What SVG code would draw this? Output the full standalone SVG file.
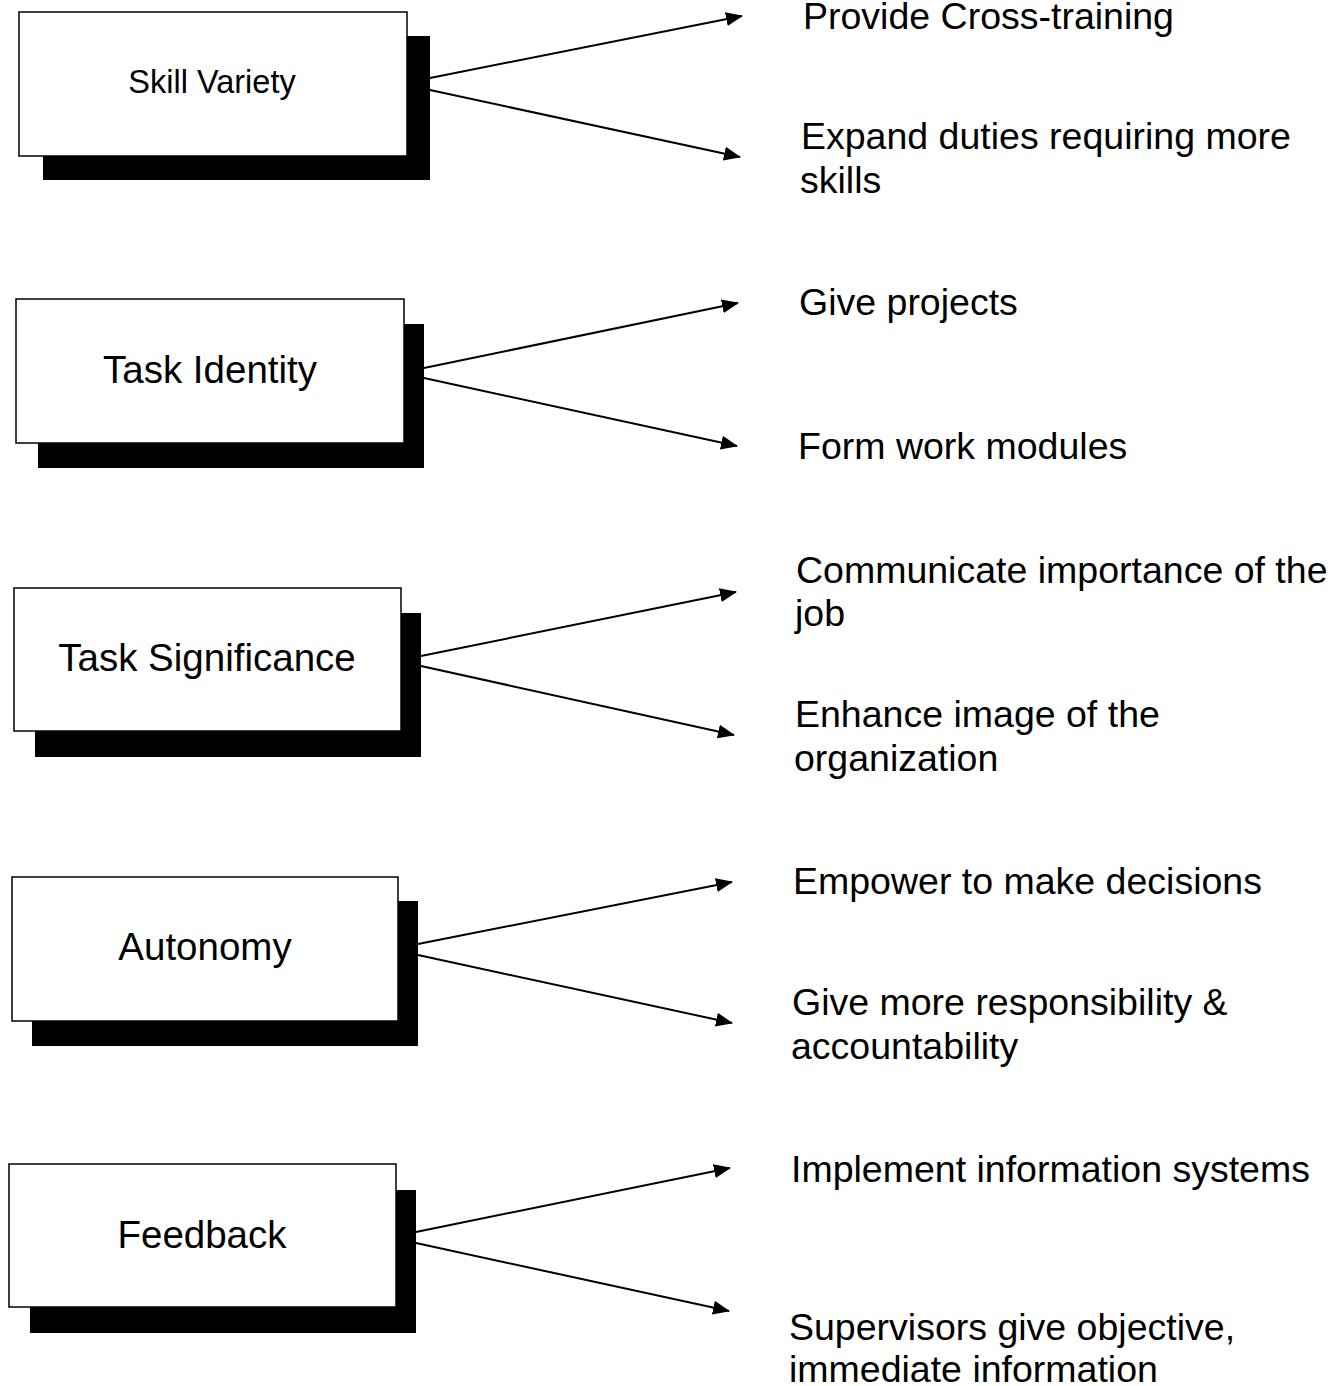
<svg xmlns="http://www.w3.org/2000/svg" width="1344" height="1386" viewBox="0 0 1344 1386">
<style>
.box{fill:#fff;stroke:#000;stroke-width:1.5}
.shadow{fill:#000}
.lbl{font-family:"Liberation Sans",Arial,sans-serif;font-size:38.5px;fill:#000;text-anchor:middle}
.txt{font-family:"Liberation Sans",Arial,sans-serif;font-size:37.5px;fill:#000}
.conn line{stroke:#000;stroke-width:2;fill:none}
</style>
<defs>
<marker id="ah" markerUnits="userSpaceOnUse" markerWidth="18" markerHeight="14" refX="16" refY="7" orient="auto">
<path d="M0,0 L17,7 L0,14 Z" fill="#000"/>
</marker>
</defs>
<rect width="1344" height="1386" fill="#fff"/>
<g id="node-skill-variety">
<rect class="shadow" x="43" y="36" width="387" height="144"/>
<rect class="box" x="19" y="12" width="388" height="144"/>
<text class="lbl" x="212" y="93" style="font-size:32.5px">Skill Variety</text>
</g>
<g id="node-task-identity">
<rect class="shadow" x="38" y="324" width="386" height="144"/>
<rect class="box" x="16" y="299" width="388" height="144"/>
<text class="lbl" x="210" y="383">Task Identity</text>
</g>
<g id="node-task-significance">
<rect class="shadow" x="35" y="613" width="386" height="144"/>
<rect class="box" x="14" y="588" width="387" height="143"/>
<text class="lbl" x="207" y="671">Task Significance</text>
</g>
<g id="node-autonomy">
<rect class="shadow" x="32" y="901" width="386" height="145"/>
<rect class="box" x="12" y="877" width="386" height="144"/>
<text class="lbl" x="205" y="960">Autonomy</text>
</g>
<g id="node-feedback">
<rect class="shadow" x="30" y="1190" width="386" height="143"/>
<rect class="box" x="9" y="1164" width="387" height="143"/>
<text class="lbl" x="202" y="1248">Feedback</text>
</g>
<g id="connectors" class="conn">
<line x1="430" y1="78" x2="742" y2="16" marker-end="url(#ah)"/>
<line x1="430" y1="90" x2="740" y2="157" marker-end="url(#ah)"/>
<line x1="424" y1="368" x2="738" y2="303" marker-end="url(#ah)"/>
<line x1="424" y1="378" x2="737" y2="446" marker-end="url(#ah)"/>
<line x1="421" y1="656" x2="736" y2="592" marker-end="url(#ah)"/>
<line x1="421" y1="666" x2="734" y2="735" marker-end="url(#ah)"/>
<line x1="418" y1="944" x2="732" y2="882" marker-end="url(#ah)"/>
<line x1="418" y1="955" x2="732" y2="1023" marker-end="url(#ah)"/>
<line x1="416" y1="1232" x2="730" y2="1168" marker-end="url(#ah)"/>
<line x1="416" y1="1243" x2="729" y2="1311" marker-end="url(#ah)"/>
</g>
<g id="node-provide-cross-training"><text class="txt" x="803" y="29">Provide Cross-training</text></g>
<g id="node-expand-duties"><text class="txt" x="801" y="149">Expand duties requiring more</text><text class="txt" x="800" y="193">skills</text></g>
<g id="node-give-projects"><text class="txt" x="799" y="315">Give projects</text></g>
<g id="node-form-work-modules"><text class="txt" x="798" y="459">Form work modules</text></g>
<g id="node-communicate"><text class="txt" x="796" y="583">Communicate importance of the</text><text class="txt" x="795" y="626">job</text></g>
<g id="node-enhance-image"><text class="txt" x="795" y="727">Enhance image of the</text><text class="txt" x="794" y="771">organization</text></g>
<g id="node-empower"><text class="txt" x="793" y="894">Empower to make decisions</text></g>
<g id="node-give-more"><text class="txt" x="792" y="1015">Give more responsibility &amp;</text><text class="txt" x="791" y="1059">accountability</text></g>
<g id="node-implement"><text class="txt" x="791" y="1182">Implement information systems</text></g>
<g id="node-supervisors"><text class="txt" x="789" y="1340">Supervisors give objective,</text><text class="txt" x="789" y="1382">immediate information</text></g>
</svg>
